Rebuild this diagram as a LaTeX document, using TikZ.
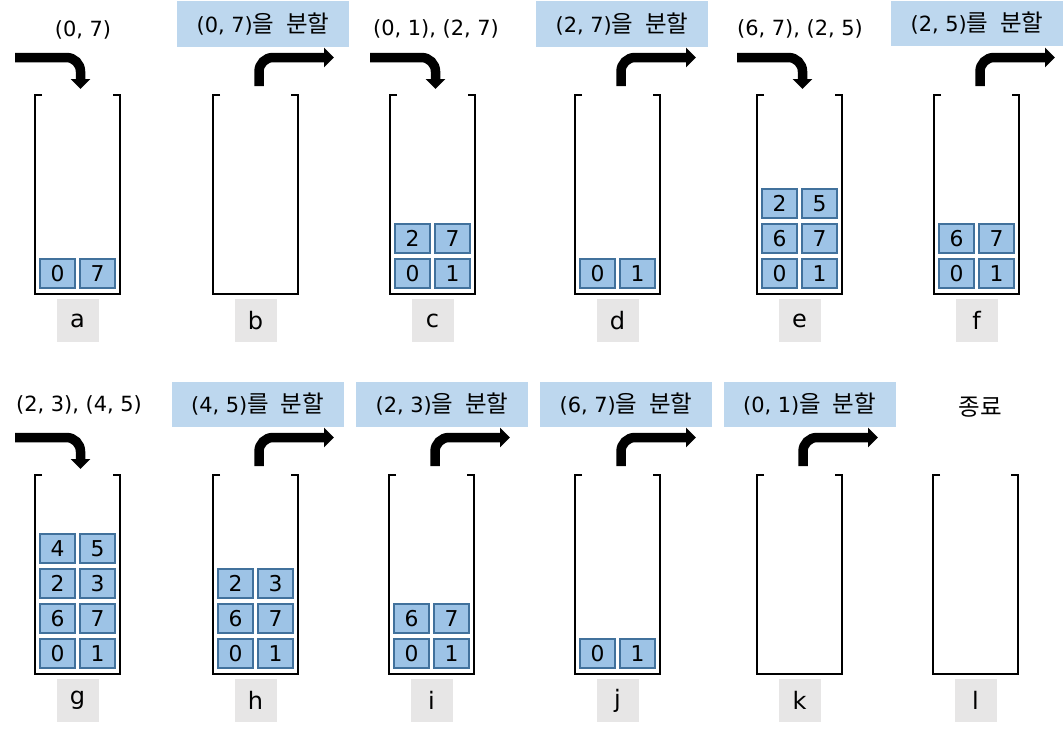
\documentclass[tikz,border=0pt]{standalone}
\usepackage{fontspec}
\setmainfont{Noto Sans CJK KR}[WordSpace=2.2]
\newfontfamily\lat{DejaVu Sans}[Scale=0.89]
\usetikzlibrary{arrows.meta}
\definecolor{taskblue}{HTML}{BDD7EE}
\definecolor{cellblue}{HTML}{9DC3E6}
\definecolor{celledge}{HTML}{41719C}
\definecolor{labgray}{HTML}{E7E6E6}
\begin{document}
\begin{tikzpicture}[x=1pt,y=-1pt,
    wall/.style={line width=2.7pt},
    cell/.style={draw=celledge,fill=cellblue,line width=1.7pt,minimum width=35.5pt,minimum height=29.5pt,inner sep=0pt,font=\fontsize{24.5}{28}\selectfont\lat},
    tag/.style={fill=labgray,minimum width=42pt,minimum height=43pt,inner sep=0pt,font=\fontsize{27}{31}\selectfont\lat},
    task/.style={fill=taskblue,minimum width=172pt,minimum height=45.5pt,inner sep=0pt,font=\fontsize{23.5}{28}\selectfont},
    note/.style={inner sep=0pt,font=\fontsize{23.5}{28}\selectfont},
    push/.style={line width=9.5pt,rounded corners=14pt,-{Triangle[width=19pt,length=10pt]}}]
    \useasboundingbox (0,0) rectangle (1063,729);

    % 스택
    \foreach \n/\x/\y in {a/35/95,b/213/95,c/390/95,d/575/95,e/757/95,f/934/95,g/35/475,h/213/475,i/389/475,j/575/475,k/757/475,l/933/475}{
        \coordinate (\n-top) at (\x+42.5,\y);
        \coordinate (\n-bot) at (\x+42.5,\y+199);
        \draw[wall] (\x+7,\y) -- (\x,\y) -- (\x,\y+199) -- (\x+85,\y+199) -- (\x+85,\y) -- (\x+78,\y);
        \node[tag] (\n-tag) at (\x+42.5,\y+225.5) {\n};
    }

    % 스택에 들어 있는 구간
    \foreach \n/\vals in {a/{0/7},c/{0/1,2/7},d/{0/1},e/{0/1,6/7,2/5},f/{0/1,6/7},g/{0/1,6/7,2/3,4/5},h/{0/1,6/7,2/3},i/{0/1,6/7},j/{0/1}}{
        \foreach \p/\q [count=\k from 0] in \vals{
            \node[cell] (\n-\k-l) at ([shift={(-20,-20.5-35*\k)}]\n-bot) {\p};
            \node[cell] (\n-\k-r) at ([shift={(20,-20.5-35*\k)}]\n-bot) {\q};
        }
    }

    % 넣기
    \foreach \n in {a,c,e,g}
        \draw[push] ([shift={(-62.5,-37.5)}]\n-top) -| ([shift={(3,-6)}]\n-top);

    % 꺼내기
    \foreach \n in {b,d,f,h,i,j,k}
        \draw[push] ([shift={(3.5,-9)}]\n-top) |- ([shift={(78.5,-37.5)}]\n-top);

    % 설명
    \node[note] (a-note) at (83,30) {\lat (0, 7)};
    \node[task] (b-task) at (263,24) {{\lat (0, 7)}을 분할};
    \node[note] (c-note) at (436,29) {\lat (0, 1), (2, 7)};
    \node[task] (d-task) at (622,24) {{\lat (2, 7)}을 분할};
    \node[note] (e-note) at (800,29) {\lat (6, 7), (2, 5)};
    \node[task] (f-task) at (977,23.5) {{\lat (2, 5)}를 분할};
    \node[note] (g-note) at (79,405) {\lat (2, 3), (4, 5)};
    \node[task] (h-task) at (257.5,404.5) {{\lat (4, 5)}를 분할};
    \node[task] (i-task) at (442,404.5) {{\lat (2, 3)}을 분할};
    \node[task] (j-task) at (626,404.5) {{\lat (6, 7)}을 분할};
    \node[task] (k-task) at (809.5,404.5) {{\lat (0, 1)}을 분할};
    \node[note] (l-note) at (980,407) {종료};
\end{tikzpicture}
\end{document}
